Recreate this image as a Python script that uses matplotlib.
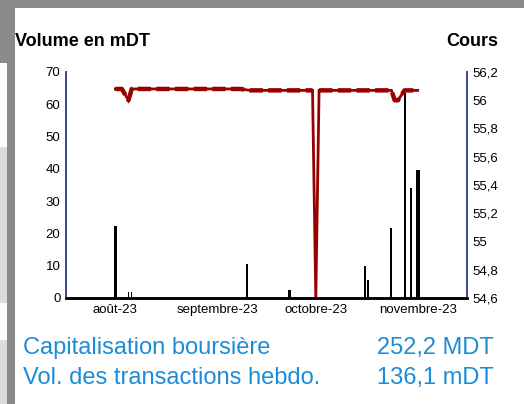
import numpy as np
import pandas as pd
import matplotlib
matplotlib.use("Agg")
import matplotlib.pyplot as plt
import matplotlib.dates as mdates
import matplotlib.ticker as ticker
from matplotlib.patches import Rectangle

plt.rcParams['font.family'] = ['Liberation Sans', 'DejaVu Sans']

# volumes (mDT)
vol_dates = ["2023-08-01", "2023-08-05", "2023-08-06", "2023-09-10", "2023-09-23",
             "2023-10-16", "2023-10-17", "2023-10-24", "2023-10-28", "2023-10-30",
             "2023-11-01"]
vol_values = [22.4, 2.0, 2.0, 10.6, 2.5, 10.0, 5.6, 21.7, 63.4, 34.2, 39.7]

# cours
price_dates = ["2023-08-01", "2023-08-03", "2023-08-05", "2023-08-06", "2023-09-08",
               "2023-09-11", "2023-09-30", "2023-10-01", "2023-10-02", "2023-10-24",
               "2023-10-25", "2023-10-26", "2023-10-28", "2023-11-01"]
price_values = [56.08, 56.08, 56.00, 56.08, 56.08, 56.07, 56.07, 54.60, 56.07, 56.07,
                56.00, 56.00, 56.07, 56.07]

month_ticks = ["2023-08-01", "2023-09-01", "2023-10-01", "2023-11-01"]
month_labels = ["août-23", "septembre-23", "octobre-23", "novembre-23"]

left_title = "Volume en mDT"
right_title = "Cours"
info_labels = ["Capitalisation boursière", "Vol. des transactions hebdo."]
info_values = ["252,2 MDT", "136,1 mDT"]


def plotChart():
    W, H = 524, 404
    fig = plt.figure(figsize=(W / 100, H / 100), dpi=100)
    fig.patch.set_facecolor("white")

    # cadre gris autour du bloc
    def rect(x0, y0, x1, y1, color):
        fig.add_artist(Rectangle((x0 / W, 1 - y1 / H), (x1 - x0) / W, (y1 - y0) / H,
                                 transform=fig.transFigure, color=color, lw=0, zorder=0))
    rect(0, 0, 524, 8, "#8a8a8a")
    rect(0, 0, 15, 63, "#8a8a8a")
    rect(7, 0, 15, 404, "#8a8a8a")
    rect(0, 147, 7, 303, "#dcdcdc")
    rect(0, 340, 7, 404, "#dcdcdc")

    ax = fig.add_axes([66 / W, 1 - 298 / H, (467 - 66) / W, (298 - 72) / H])
    ax2 = ax.twinx()

    vx = pd.to_datetime(vol_dates)
    widths = [1.0, 0.4, 0.4, 0.6, 1.1, 0.6, 0.6, 0.6, 0.6, 0.6, 1.2]
    ax.bar(vx, vol_values, width=widths, color="black", align="center")

    px = pd.to_datetime(price_dates)
    pv = np.array(price_values)
    red = "#990000"
    ax2.plot(px, pv, color=red, lw=2.0, solid_joinstyle="miter", clip_on=False)
    # trait épais en tirets, sans la chute du 1er octobre
    thick = np.where(pv < 55, np.nan, pv)
    ax2.plot(px, thick, color=red, lw=3.2, linestyle=(0, (3, 1.2)),
             dash_capstyle="butt")

    ax.set_xlim(pd.Timestamp("2023-07-17"), pd.Timestamp("2023-11-16"))
    ax.set_ylim(0, 70)
    ax2.set_ylim(54.6, 56.2)

    ax.yaxis.set_major_locator(ticker.MultipleLocator(10))
    ax2.yaxis.set_major_locator(ticker.MultipleLocator(0.2))
    ax2.yaxis.set_major_formatter(
        ticker.FuncFormatter(lambda v, p: f"{round(v, 1):g}".replace(".", ",")))

    ax.xaxis.set_major_locator(ticker.FixedLocator(mdates.date2num(pd.to_datetime(month_ticks))))
    ax.xaxis.set_major_formatter(ticker.FixedFormatter(month_labels))

    ax.tick_params(axis="y", length=0, pad=4, labelsize=9.5)
    ax.tick_params(axis="x", length=0, pad=4, labelsize=9.5)
    ax2.tick_params(axis="y", length=0, pad=4, labelsize=9.5)

    navy = "#3a4587"
    for a in (ax, ax2):
        a.spines["top"].set_visible(False)
        a.spines["left"].set_color(navy)
        a.spines["right"].set_color(navy)
        a.spines["left"].set_linewidth(1.2)
        a.spines["right"].set_linewidth(1.2)
        a.spines["bottom"].set_color("black")
        a.spines["bottom"].set_linewidth(1.8)
        a.patch.set_visible(False)

    fig.text(15 / W, 1 - 46 / H, left_title, fontsize=13, fontweight="bold",
             ha="left", va="baseline")
    fig.text(498 / W, 1 - 46 / H, right_title, fontsize=13, fontweight="bold",
             ha="right", va="baseline")

    blue = "#1c8cd6"
    for i, (lab, val) in enumerate(zip(info_labels, info_values)):
        yb = 1 - (354 + 30 * i) / H
        fig.text(23 / W, yb, lab, fontsize=17, color=blue, ha="left", va="baseline")
        fig.text(494 / W, yb, val, fontsize=17, color=blue, ha="right", va="baseline")

    plt.savefig("out.png", dpi=100)


if __name__ == "__main__":
    plotChart()
